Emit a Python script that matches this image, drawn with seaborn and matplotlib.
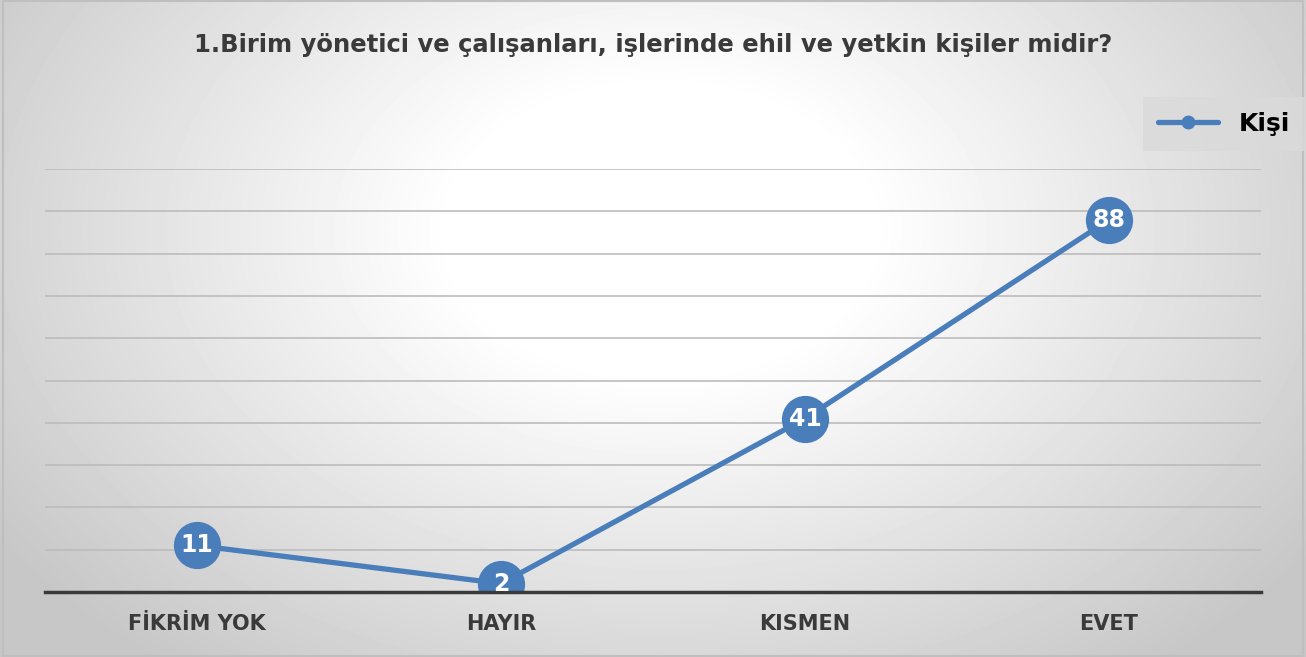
import matplotlib
matplotlib.use("Agg")
import matplotlib.pyplot as plt
import numpy as np
import pandas as pd
import seaborn as sns
from matplotlib.lines import Line2D

# dados
categorias = ["FİKRİM YOK", "HAYIR", "KISMEN", "EVET"]
valores = [11, 2, 41, 88]
serie = "Kişi"
titulo = "1.Birim yönetici ve çalışanları, işlerinde ehil ve yetkin kişiler midir?"

AZUL = "#4a7ebb"
TEXTO = "#3a3a3a"

sns.set_theme(style="white")
plt.rcParams["font.family"] = ["DejaVu Sans"]

df = pd.DataFrame({"categoria": categorias, "valor": valores, "pos": range(len(categorias))})

fig = plt.figure(figsize=(13.06, 6.57), dpi=100)

# fundo com gradiente radial (branco no centro, cinza nas bordas)
bg = fig.add_axes([0, 0, 1, 1], zorder=0)
h, w = 657, 1306
yy, xx = np.mgrid[0:h, 0:w]
d = np.sqrt(((xx - 660) / 700) ** 2 + ((yy - 230) / 480) ** 2)
g = np.clip(1 - 0.26 * np.clip(d - 0.3, 0, None), 0.78, 1.0)
bg.imshow(g, cmap="gray", vmin=0, vmax=1, aspect="auto", extent=[0, 1, 0, 1])
bg.plot([0.002, 0.998, 0.998, 0.002, 0.002], [0.002, 0.002, 0.998, 0.998, 0.002],
        color="#bfbfbf", linewidth=1.5)
bg.set_xlim(0, 1)
bg.set_ylim(0, 1)
bg.axis("off")

ax = fig.add_axes([45 / w, 1 - 592 / h, 1216 / w, 423 / h], zorder=1)
ax.patch.set_alpha(0)

sns.lineplot(data=df, x="pos", y="valor", ax=ax, color=AZUL, linewidth=3.8,
             marker="o", markersize=34, markeredgewidth=0,
             label=serie, legend=False)

for x, v in zip(df["pos"], df["valor"]):
    ax.text(x, v, str(v), ha="center", va="center", color="white",
            fontsize=17, fontweight="bold")

ax.set_xlim(-0.5, len(categorias) - 0.5)
ax.set_ylim(0, 100)
ax.set_yticks(np.arange(0, 101, 10))
ax.yaxis.grid(True, color="#bcbcbc", linewidth=1.2)
ax.xaxis.grid(False)
ax.set_yticklabels([])
ax.tick_params(axis="y", length=0)
ax.set_xticks(df["pos"])
ax.set_xticklabels(categorias, fontsize=15, fontweight="bold", color=TEXTO)
ax.tick_params(axis="x", length=0, pad=16)
ax.set_xlabel("")
ax.set_ylabel("")
for lado in ["top", "left", "right"]:
    ax.spines[lado].set_visible(False)
ax.spines["bottom"].set_color(TEXTO)
ax.spines["bottom"].set_linewidth(2.5)
ax.set_axisbelow(True)

fig.text(0.5, 1 - 45 / h, titulo, ha="center", va="center", fontsize=17.5,
         fontweight="bold", color=TEXTO)

handle = Line2D([0], [0], color=AZUL, linewidth=3.8, marker="o", markersize=9)
leg = fig.legend([handle], [serie], loc="center", bbox_to_anchor=(1224 / w, 1 - 124 / h),
                 frameon=True, facecolor="#dadada", fancybox=False,
                 prop={"size": 18, "weight": "bold"}, handlelength=2.4, borderpad=0.6,
                 labelcolor="black")
leg.get_frame().set_linewidth(0)

fig.savefig("out.png", dpi=100)
